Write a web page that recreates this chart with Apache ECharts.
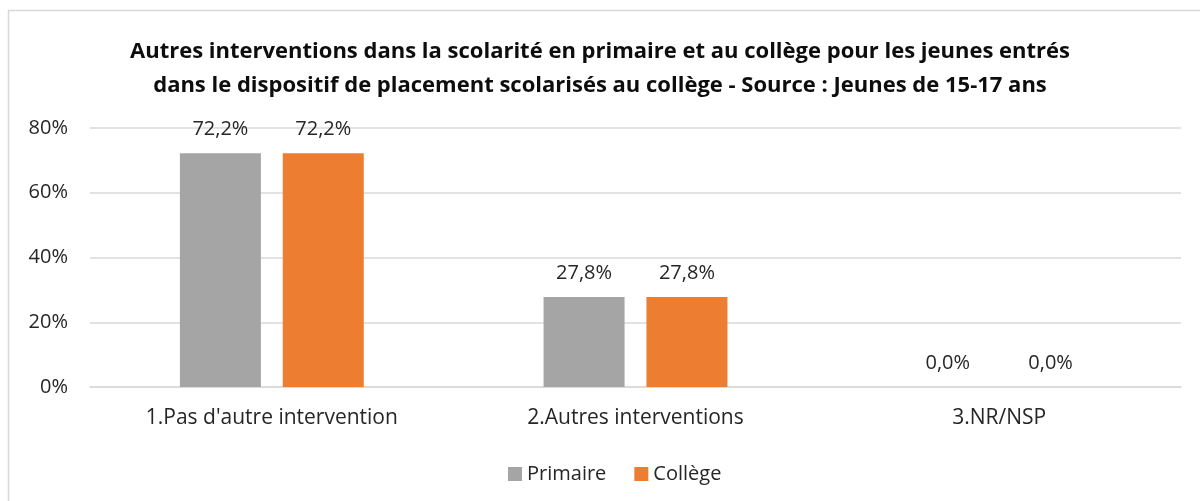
<!DOCTYPE html>
<html>
<head>
<meta charset="utf-8">
<script src="https://cdn.jsdelivr.net/npm/echarts@6/dist/echarts.min.js"></script>
<style>
  html, body { margin: 0; padding: 0; background: #fff; }
  #chart { width: 1200px; height: 501px; }
</style>
</head>
<body>
<div id="chart"></div>
<script>
const categories = ['1.Pas d\'autre intervention', '2.Autres interventions', '3.NR/NSP']
const primaire = [72.2, 27.8, 0.0]
const college = [72.2, 27.8, 0.0]
const yTicks = [0, 20, 40, 60, 80]

const font = '"Open Sans", "Noto Sans", sans-serif'
const fmtPct = v => v.toFixed(1).replace('.', ',') + '%'

const chart = echarts.init(document.getElementById('chart'), null, { renderer: 'canvas' })

const labelStyle = {
  show: true,
  position: 'top',
  distance: 14,
  color: '#262626',
  fontFamily: font,
  fontSize: 20,
  formatter: p => fmtPct(p.value),
}

chart.setOption({
  animation: false,
  textStyle: { fontFamily: font },
  graphic: [
    {
      type: 'rect',
      shape: { x: 8.5, y: 10.5, width: 1300, height: 600 },
      style: { fill: 'none', stroke: '#d9d9d9', lineWidth: 1.5 },
      silent: true,
    },
  ],
  title: {
    text: 'Autres interventions dans la scolarité en primaire et au collège pour les jeunes entrés\ndans le dispositif de placement scolarisés au collège - Source : Jeunes de 15-17 ans',
    left: 'center',
    top: 30,
    textStyle: {
      fontFamily: font,
      fontSize: 22,
      fontWeight: 'bold',
      color: '#0d0d0d',
      lineHeight: 34,
    },
  },
  legend: {
    top: 459,
    left: 503,
    itemWidth: 14,
    itemHeight: 14,
    itemGap: 28,
    icon: 'rect',
    textStyle: { fontFamily: font, fontSize: 20, color: '#262626' },
    data: ['Primaire', 'Collège'],
  },
  grid: { left: 90, right: 19, top: 128, bottom: 114, containLabel: false },
  xAxis: {
    type: 'category',
    data: categories,
    axisLine: { show: true, lineStyle: { color: '#d9d9d9', width: 1.5 } },
    axisTick: { show: false },
    axisLabel: { color: '#262626', fontFamily: font, fontSize: 21, margin: 21 },
  },
  yAxis: {
    type: 'value',
    min: yTicks[0],
    max: yTicks[yTicks.length - 1],
    interval: 20,
    axisLine: { show: false },
    axisTick: { show: false },
    splitLine: { lineStyle: { color: '#d9d9d9', width: 1.5 } },
    axisLabel: {
      color: '#262626',
      fontFamily: font,
      fontSize: 20,
      margin: 22,
      formatter: v => v + '%',
    },
  },
  series: [
    {
      name: 'Primaire',
      type: 'bar',
      data: primaire,
      barWidth: 81,
      barGap: '27%',
      itemStyle: { color: '#a5a5a5' },
      label: labelStyle,
    },
    {
      name: 'Collège',
      type: 'bar',
      data: college,
      barWidth: 81,
      itemStyle: { color: '#ed7d31' },
      label: labelStyle,
    },
  ],
})
</script>
</body>
</html>
